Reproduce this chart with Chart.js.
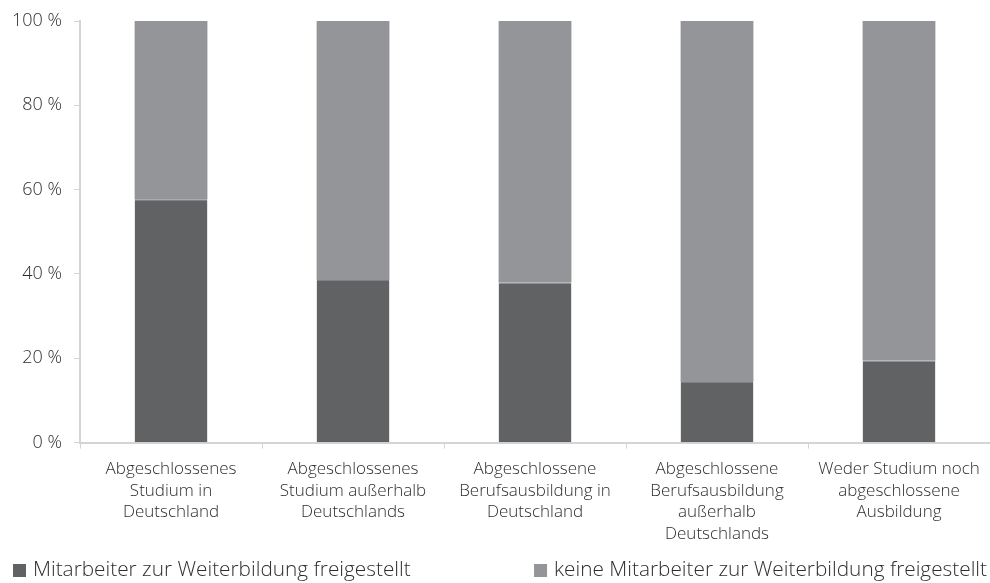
<!DOCTYPE html>
<html>
<head>
<meta charset="utf-8">
<script src="https://cdn.jsdelivr.net/npm/chart.js@4"></script>
<style>
  body { margin: 0; background: #fff; }
  #wrap { width: 990px; height: 583px; position: relative; }
</style>
</head>
<body>
<div id="wrap"><canvas id="chart"></canvas></div>
<script>
var categories = [
    ['Abgeschlossenes', 'Studium in', 'Deutschland'],
    ['Abgeschlossenes', 'Studium außerhalb', 'Deutschlands'],
    ['Abgeschlossene', 'Berufsausbildung in', 'Deutschland'],
    ['Abgeschlossene', 'Berufsausbildung', 'außerhalb', 'Deutschlands'],
    ['Weder Studium noch', 'abgeschlossene', 'Ausbildung']
];
var freigestellt = [57.7, 38.6, 38.0, 14.4, 19.5];
var keine = [42.3, 61.4, 62.0, 85.6, 80.5];
var yTicks = [0, 20, 40, 60, 80, 100];

var FONT = "'Open Sans', sans-serif";
var textColor = '#2e2e2e';
var axisColor = '#d4d4d4';

// legend drawn by hand: first item at the left, second pushed to the right edge
var splitLegend = {
    id: 'splitLegend',
    afterDraw: function (chart) {
        var ctx = chart.ctx;
        var sets = chart.data.datasets;
        var y = 570;
        ctx.save();
        ctx.font = '300 20.8px ' + FONT;
        ctx.textBaseline = 'middle';
        // left item
        ctx.fillStyle = sets[0].backgroundColor;
        ctx.fillRect(13, y - 6, 13, 13);
        ctx.fillStyle = textColor;
        ctx.textAlign = 'left';
        ctx.fillText(sets[0].label, 33, y);
        // right item
        var w = ctx.measureText(sets[1].label).width;
        var x = chart.width - 3 - w;
        ctx.fillStyle = sets[1].backgroundColor;
        ctx.fillRect(x - 20, y - 6, 13, 13);
        ctx.fillStyle = textColor;
        ctx.fillText(sets[1].label, x, y);
        ctx.restore();
    }
};

new Chart(document.getElementById('chart'), {
    type: 'bar',
    data: {
        labels: categories,
        datasets: [{
            label: 'Mitarbeiter zur Weiterbildung freigestellt',
            data: freigestellt,
            backgroundColor: '#616264',
            borderColor: '#7f8083',
            borderWidth: { top: 1 },
            barPercentage: 0.4,
            categoryPercentage: 1
        }, {
            label: 'keine Mitarbeiter zur Weiterbildung freigestellt',
            data: keine,
            backgroundColor: '#939598',
            borderWidth: 0,
            barPercentage: 0.4,
            categoryPercentage: 1
        }]
    },
    options: {
        responsive: true,
        maintainAspectRatio: false,
        animation: false,
        layout: { padding: { top: 0, left: 0, right: 0, bottom: 28 } },
        plugins: {
            legend: { display: false },
            tooltip: { enabled: false }
        },
        scales: {
            x: {
                stacked: true,
                grid: {
                    drawOnChartArea: false,
                    color: axisColor,
                    tickLength: 6,
                    offset: true
                },
                border: { color: axisColor, width: 2 },
                ticks: {
                    color: textColor,
                    font: { family: FONT, size: 17, weight: 300, lineHeight: 1.27 },
                    maxRotation: 0,
                    autoSkip: false,
                    padding: 10
                }
            },
            y: {
                stacked: true,
                min: 0,
                max: 100,
                afterBuildTicks: function (axis) {
                    axis.ticks = yTicks.map(function (v) { return { value: v }; });
                },
                grid: {
                    drawOnChartArea: false,
                    color: axisColor,
                    tickLength: 6
                },
                border: { color: axisColor, width: 2 },
                ticks: {
                    color: textColor,
                    font: { family: FONT, size: 18, weight: 300, lineHeight: 1 },
                    padding: 12,
                    callback: function (v) { return v + ' %'; }
                }
            }
        }
    },
    plugins: [splitLegend]
});
</script>
</body>
</html>
